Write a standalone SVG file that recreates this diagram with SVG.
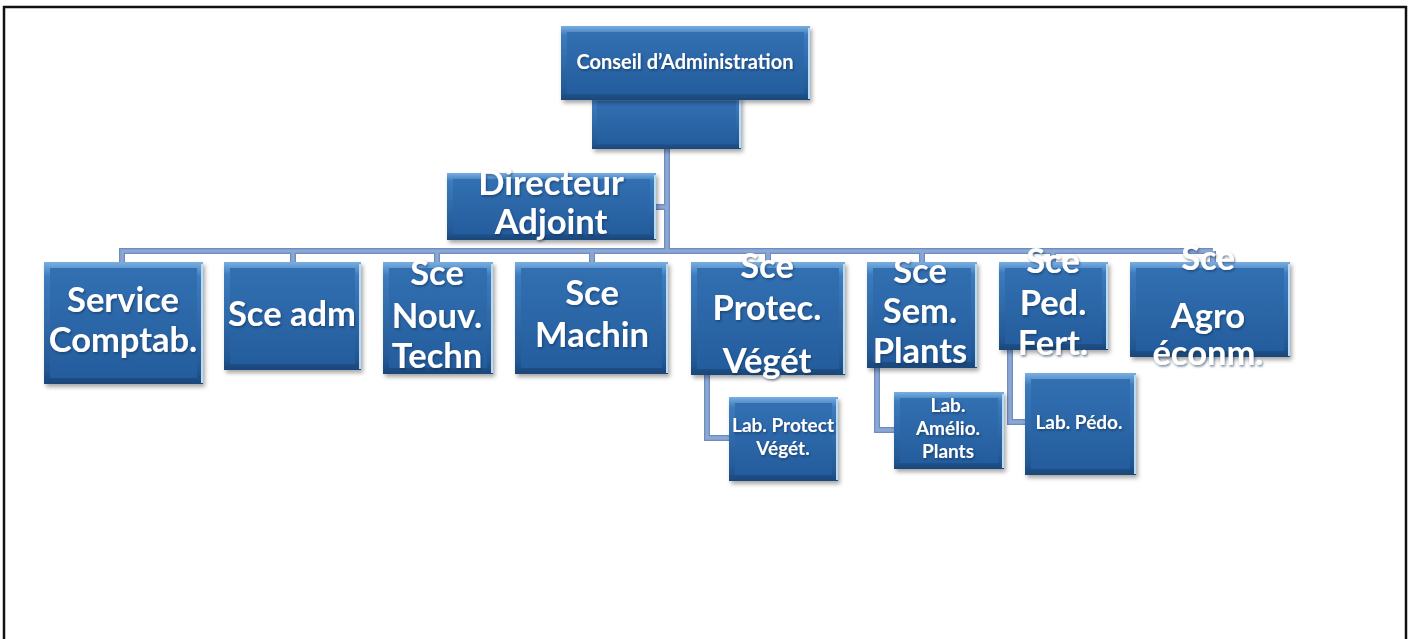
<svg xmlns="http://www.w3.org/2000/svg" width="1409" height="639" viewBox="0 0 1409 639">
<defs>
<linearGradient id="bev" x1="0" y1="0" x2="0" y2="1">
<stop offset="0" stop-color="#7aaee0"/>
<stop offset="0.12" stop-color="#3d7bbd"/>
<stop offset="0.88" stop-color="#235894"/>
<stop offset="1" stop-color="#1a4678"/>
</linearGradient>
<linearGradient id="face" x1="0" y1="0" x2="0" y2="1">
<stop offset="0" stop-color="#3270b2"/>
<stop offset="1" stop-color="#245d9d"/>
</linearGradient>
<filter id="sh" x="-10%" y="-10%" width="125%" height="130%">
<feDropShadow dx="2" dy="3" stdDeviation="2" flood-color="#000" flood-opacity="0.35"/>
</filter>
<filter id="tsh" x="-10%" y="-10%" width="120%" height="130%">
<feDropShadow dx="1" dy="1.5" stdDeviation="1" flood-color="#0a2a50" flood-opacity="0.6"/>
</filter>
</defs>
<style>
.box{fill:url(#bev);filter:url(#sh)}
.in{fill:url(#face)}
.hl{stroke:#b8dbf6;stroke-width:2;fill:none}
.t{font-family:Lato,"Liberation Sans",sans-serif;font-weight:bold;fill:#fff;text-anchor:middle;filter:url(#tsh)}
.big{font-size:34.5px}
.mid{font-size:20px}
.sm{font-size:19px}
.c{fill:none;stroke:#6f8cbd;stroke-width:6}
.ci{fill:none;stroke:#8ba7d3;stroke-width:3.5}
</style>
<rect width="1409" height="639" fill="#fff"/>
<path d="M4,639 V7 H1406 V639" fill="none" stroke="#111" stroke-width="2.5"/>

<g id="connectors">
<path class="c" d="M667,149 V251 M656,207 H667 M122,262 V251 H1213 M293,251 V262 M437,251 V262 M592,251 V262 M768,251 V262 M922,251 V262 M1053,251 V262 M1213,251 V262 M707,375 V438 H729 M877,368 V430 H894 M1010,350 V422 H1025"/>
<path class="ci" d="M667,149 V251 M656,207 H667 M122,262 V251 H1213 M293,251 V262 M437,251 V262 M592,251 V262 M768,251 V262 M922,251 V262 M1053,251 V262 M1213,251 V262 M707,375 V438 H729 M877,368 V430 H894 M1010,350 V422 H1025"/>
</g>

<g id="conseil-sub">
<rect class="box" x="592" y="96" width="149" height="53"/>
<rect class="in" x="597" y="101" width="139" height="43"/>
<line class="hl" x1="740" y1="98" x2="740" y2="148"/>
</g>
<g id="conseil">
<rect class="box" x="561" y="26" width="249" height="74"/>
<rect class="in" x="567" y="32" width="237" height="62"/>
<line class="hl" x1="809" y1="28" x2="809" y2="99"/>
<text class="t mid" x="685" y="69">Conseil d’Administration</text>
</g>
<g id="directeur">
<rect class="box" x="447" y="173" width="209" height="67"/>
<rect class="in" x="453" y="179" width="197" height="55"/>
<line class="hl" x1="655" y1="175" x2="655" y2="239"/>
<text class="t big" x="551" y="195">Directeur</text>
<text class="t big" x="551" y="234">Adjoint</text>
</g>

<g id="comptab">
<rect class="box" x="44" y="262" width="159" height="122"/>
<rect class="in" x="50" y="268" width="147" height="110"/>
<line class="hl" x1="202" y1="264" x2="202" y2="383"/>
<text class="t big" x="123" y="312">Service</text>
<text class="t big" x="123" y="352">Comptab.</text>
</g>
<g id="adm">
<rect class="box" x="224" y="262" width="137" height="108"/>
<rect class="in" x="230" y="268" width="125" height="96"/>
<line class="hl" x1="360" y1="264" x2="360" y2="369"/>
<text class="t big" x="292" y="326">Sce adm</text>
</g>
<g id="nouv">
<rect class="box" x="383" y="262" width="110" height="112"/>
<rect class="in" x="389" y="268" width="98" height="100"/>
<line class="hl" x1="492" y1="264" x2="492" y2="373"/>
<text class="t big" x="437" y="285">Sce</text>
<text class="t big" x="437" y="328">Nouv.</text>
<text class="t big" x="437" y="368">Techn</text>
</g>
<g id="machin">
<rect class="box" x="515" y="262" width="153" height="112"/>
<rect class="in" x="521" y="268" width="141" height="100"/>
<line class="hl" x1="667" y1="264" x2="667" y2="373"/>
<text class="t big" x="592" y="305">Sce</text>
<text class="t big" x="592" y="347">Machin</text>
</g>
<g id="protec">
<rect class="box" x="691" y="262" width="154" height="113"/>
<rect class="in" x="697" y="268" width="142" height="101"/>
<line class="hl" x1="844" y1="264" x2="844" y2="374"/>
<text class="t big" x="767" y="278">Sce</text>
<text class="t big" x="767" y="320">Protec.</text>
<text class="t big" x="767" y="373">Végét</text>
</g>
<g id="sem">
<rect class="box" x="867" y="262" width="110" height="106"/>
<rect class="in" x="873" y="268" width="98" height="94"/>
<line class="hl" x1="976" y1="264" x2="976" y2="367"/>
<text class="t big" x="920" y="283">Sce</text>
<text class="t big" x="920" y="323">Sem.</text>
<text class="t big" x="920" y="363">Plants</text>
</g>
<g id="ped">
<rect class="box" x="999" y="262" width="109" height="88"/>
<rect class="in" x="1005" y="268" width="97" height="76"/>
<line class="hl" x1="1107" y1="264" x2="1107" y2="349"/>
<text class="t big" x="1053" y="273">Sce</text>
<text class="t big" x="1053" y="315">Ped.</text>
<text class="t big" x="1053" y="355">Fert.</text>
</g>
<g id="agro">
<rect class="box" x="1130" y="262" width="160" height="95"/>
<rect class="in" x="1136" y="268" width="148" height="83"/>
<line class="hl" x1="1289" y1="264" x2="1289" y2="356"/>
<text class="t big" x="1208" y="270">Sce</text>
<text class="t big" x="1208" y="328">Agro</text>
<text class="t big" x="1208" y="365">éconm.</text>
</g>

<g id="lab-protect">
<rect class="box" x="729" y="397" width="109" height="84"/>
<rect class="in" x="735" y="403" width="97" height="72"/>
<line class="hl" x1="837" y1="399" x2="837" y2="480"/>
<text class="t sm" x="783" y="432">Lab. Protect</text>
<text class="t sm" x="783" y="455">Végét.</text>
</g>
<g id="lab-amelio">
<rect class="box" x="894" y="392" width="110" height="77"/>
<rect class="in" x="900" y="398" width="98" height="65"/>
<line class="hl" x1="1003" y1="394" x2="1003" y2="468"/>
<text class="t sm" x="948" y="412">Lab.</text>
<text class="t sm" x="948" y="435">Amélio.</text>
<text class="t sm" x="948" y="458">Plants</text>
</g>
<g id="lab-pedo">
<rect class="box" x="1025" y="373" width="111" height="102"/>
<rect class="in" x="1031" y="379" width="99" height="90"/>
<line class="hl" x1="1135" y1="375" x2="1135" y2="474"/>
<text class="t sm" x="1079" y="429">Lab. Pédo.</text>
</g>
</svg>
